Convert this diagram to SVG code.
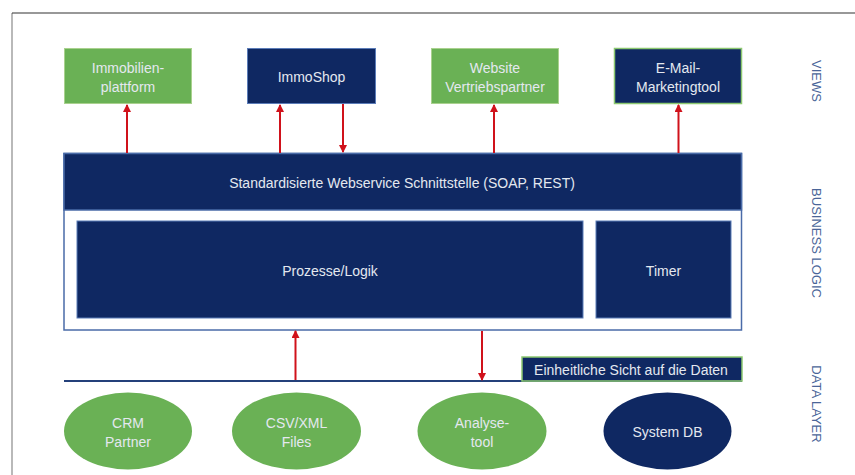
<svg xmlns="http://www.w3.org/2000/svg" width="855" height="475" viewBox="0 0 855 475">
<style>
text{font-family:"Liberation Sans",Arial,sans-serif;font-size:14px;fill:#E4E8F0;text-anchor:middle}
.green{fill:#6AB155;stroke:#A9D18E;stroke-width:1}
.navy{fill:#0F2862;stroke:#5B7CB8;stroke-width:1}
.navyg{fill:#0F2862;stroke:#8CC870;stroke-width:1.5}
.ell{fill:#6AB155;stroke:none}
.elln{fill:#0F2862;stroke:none}
.side{fill:#4A6598;font-size:13px}
.arr{stroke:#D0121B;stroke-width:2;fill:none;marker-end:url(#ah)}
</style>
<defs>
<marker id="ah" viewBox="0 0 8 8" refX="7" refY="4" markerWidth="4" markerHeight="4" orient="auto" markerUnits="strokeWidth">
<path d="M0,0 L8,4 L0,8 z" fill="#D0121B"/>
</marker>
</defs>
<rect width="855" height="475" fill="#fff"/>
<line x1="12" y1="13" x2="12" y2="475" stroke="#8a8a8a" stroke-width="1.2"/>
<line x1="12" y1="13" x2="855" y2="13" stroke="#333" stroke-width="1.2"/>

<g id="immobilienplattform">
<rect class="green" x="64.5" y="48.5" width="127" height="55"/>
<text x="128" y="73">Immobilien-</text>
<text x="128" y="92">plattform</text>
</g>
<g id="immoshop">
<rect class="navy" x="247.5" y="48.5" width="128" height="55"/>
<text x="311.5" y="82">ImmoShop</text>
</g>
<g id="website">
<rect class="green" x="431.5" y="48.5" width="127" height="55"/>
<text x="495" y="73">Website</text>
<text x="495" y="92">Vertriebspartner</text>
</g>
<g id="email">
<rect class="navyg" x="614.5" y="48.5" width="127" height="55"/>
<text x="678" y="73">E-Mail-</text>
<text x="678" y="92">Marketingtool</text>
</g>

<g id="business">
<rect x="64" y="153.5" width="677.5" height="176.5" fill="#fff" stroke="#4A6BA8" stroke-width="1.5"/>
<rect x="64" y="153.5" width="677.5" height="56.5" fill="#0F2862" stroke="#4A6BA8" stroke-width="1.5"/>
<text x="402" y="188">Standardisierte Webservice Schnittstelle (SOAP, REST)</text>
</g>
<g id="prozesse">
<rect class="navy" x="77" y="221" width="506" height="97" stroke="#3D5A96"/>
<text x="330" y="276">Prozesse/Logik</text>
</g>
<g id="timer">
<rect class="navy" x="596" y="221" width="135" height="97" stroke="#3D5A96"/>
<text x="663.5" y="276">Timer</text>
</g>

<g id="datalayer">
<line x1="64" y1="381" x2="742" y2="381" stroke="#24407A" stroke-width="2"/>
</g>
<g id="sicht">
<rect class="navyg" x="522" y="357" width="220" height="24"/>
<text x="631" y="374.5">Einheitliche Sicht auf die Daten</text>
</g>

<g id="crm">
<ellipse class="ell" cx="128" cy="431" rx="64" ry="38.5"/>
<text x="128" y="428">CRM</text>
<text x="128" y="447">Partner</text>
</g>
<g id="csv">
<ellipse class="ell" cx="296.5" cy="431" rx="64.5" ry="38.5"/>
<text x="296.5" y="428">CSV/XML</text>
<text x="296.5" y="447">Files</text>
</g>
<g id="analyse">
<ellipse class="ell" cx="482" cy="431" rx="64.5" ry="38.5"/>
<text x="482" y="428">Analyse-</text>
<text x="482" y="447">tool</text>
</g>
<g id="systemdb">
<ellipse class="elln" cx="667.5" cy="431" rx="64" ry="38.5"/>
<text x="667.5" y="437">System DB</text>
</g>

<g id="labels">
<text class="side" transform="translate(812,81) rotate(90)">VIEWS</text>
<text class="side" transform="translate(812,243) rotate(90)">BUSINESS LOGIC</text>
<text class="side" transform="translate(812,404) rotate(90)">DATA LAYER</text>
</g>

<g id="connectors">
<line class="arr" x1="127" y1="153" x2="127" y2="105"/>
<line class="arr" x1="280" y1="153" x2="280" y2="105"/>
<line class="arr" x1="343" y1="104" x2="343" y2="152"/>
<line class="arr" x1="494" y1="153" x2="494" y2="105"/>
<line class="arr" x1="678.5" y1="153" x2="678.5" y2="105"/>
<line class="arr" x1="295.5" y1="380" x2="295.5" y2="331"/>
<line class="arr" x1="482" y1="331" x2="482" y2="380"/>
</g>
</svg>
